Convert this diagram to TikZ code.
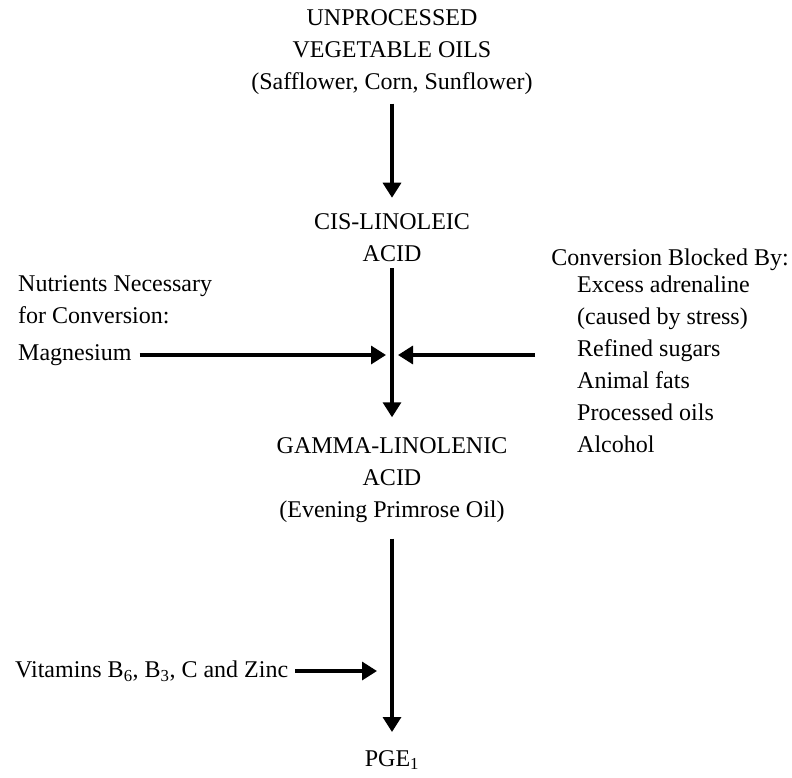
\documentclass[tikz,border=0pt]{standalone}
\usepackage{fontspec}
\setmainfont{Liberation Serif}
\usetikzlibrary{arrows.meta}
\begin{document}
\begin{tikzpicture}[x=1pt,y=-1pt,
  lbl/.style={font=\fontsize{24}{32}\selectfont, inner sep=0pt, align=center},
  lleft/.style={font=\fontsize{24}{32}\selectfont, inner sep=0pt, align=left},
  flow/.style={line width=3.3pt, -{Triangle[width=18pt,length=15pt]}}]
\useasboundingbox (0,0) rectangle (792,777);
% main column
\node[lbl] (oils) at (392,52) {UNPROCESSED\\VEGETABLE OILS\\(Safflower, Corn, Sunflower)};
\node[lbl] (cis) at (392,238) {CIS-LINOLEIC\\ACID};
\node[lbl] (gla) at (392,480) {GAMMA-LINOLENIC\\ACID\\(Evening Primrose Oil)};
\node[lbl] (pge) at (392,760) {PGE\textsubscript{1}};
% side texts
\node[lleft, anchor=west] (nutr) at (18,300) {Nutrients Necessary\\for Conversion:};
\node[lleft, anchor=west] (mg) at (18,355) {Magnesium};
\node[lleft, anchor=east] (blk) at (789,260) {Conversion Blocked By:};
\node[lleft, anchor=north west] (list) at (577,276) {Excess adrenaline\\(caused by stress)\\Refined sugars\\Animal fats\\Processed oils\\Alcohol};
\node[lleft, anchor=west] (vit) at (15,671) {Vitamins B\textsubscript{6}, B\textsubscript{3}, C and Zinc};
% connector ends
\coordinate (mgtip) at (386,355);
\coordinate (blkstart) at (535,355);
\coordinate (blktip) at (398,355);
\coordinate (vittip) at (377,671);
% connectors
\draw[flow, shorten <=9pt, shorten >=16pt] (oils) -- (cis);
\draw[flow, shorten <=6pt, shorten >=20pt] (cis) -- (gla);
\draw[flow, shorten <=16pt, shorten >=18pt] (gla) -- (pge);
\draw[flow, shorten <=8pt] (mg.east) -- (mgtip);
\draw[flow] (blkstart) -- (blktip);
\draw[flow, shorten <=7pt] (vit.east) -- (vittip);
\end{tikzpicture}
\end{document}
